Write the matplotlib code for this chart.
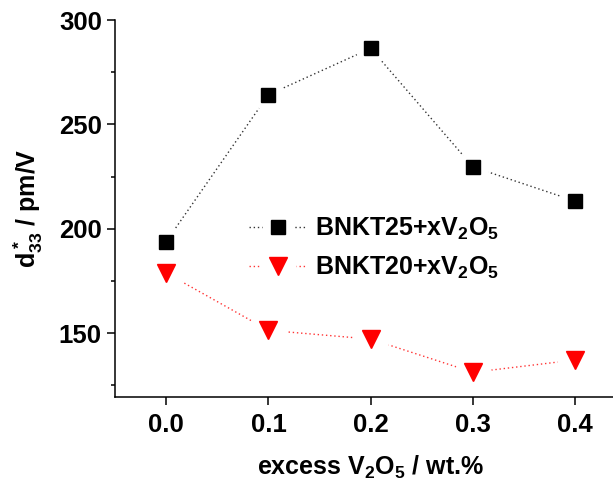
import numpy as np
import matplotlib.pyplot as plt
from matplotlib.ticker import MultipleLocator

plt.rcParams['font.family'] = ['Liberation Sans', 'DejaVu Sans']
plt.rcParams['font.weight'] = 'bold'
plt.rcParams['mathtext.default'] = 'regular'

# excess V2O5 content (wt.%) and d33* values (pm/V)
x_excess = [0.0, 0.1, 0.2, 0.3, 0.4]
d33_bnkt25 = [193.8, 264.2, 286.4, 229.6, 213.2]
d33_bnkt20 = [178.8, 151.3, 147.1, 131.2, 137.1]
labels = ['BNKT25+xV$_2$O$_5$', 'BNKT20+xV$_2$O$_5$']

fig = plt.figure(figsize=(6.13, 4.82), dpi=100)
ax = fig.add_axes([0.1876, 0.177, 0.8344, 0.7815])

def series(y, color, marker, ms):
    ln, = ax.plot(x_excess, y, ls=(0, (1, 2)), lw=1.0, color=color, alpha=0.8, zorder=1)
    # white halo so the dotted line stops short of each marker
    halo, = ax.plot(x_excess, y, ls='none', marker='o', ms=ms + 13,
                    mfc='white', mec='white', mew=0, zorder=2)
    mk, = ax.plot(x_excess, y, ls='none', marker=marker, ms=ms,
                  mfc=color, mec=color, zorder=3)
    return (ln, halo, mk)

h1 = series(d33_bnkt25, 'black', 's', 10)
h2 = series(d33_bnkt20, 'red', 'v', 13)

ax.set_xlim(-0.05, 0.45)
ax.set_ylim(119.5, 300)
ax.xaxis.set_major_locator(MultipleLocator(0.1))
ax.yaxis.set_major_locator(MultipleLocator(50))
ax.yaxis.set_minor_locator(MultipleLocator(25))
ax.xaxis.set_major_formatter(plt.FormatStrFormatter('%.1f'))

for s in ['top', 'right']:
    ax.spines[s].set_visible(False)
for s in ['left', 'bottom']:
    ax.spines[s].set_linewidth(1.1)
ax.tick_params(which='major', direction='out', length=5.5, width=1.1,
               labelsize=18.5, pad=4)
ax.tick_params(which='minor', direction='out', length=3, width=1.1)
ax.tick_params(axis='x', pad=6)

ax.set_xlabel('excess V$_2$O$_5$ / wt.%', fontsize=18, fontweight='bold', labelpad=12)
ax.set_ylabel('d$^*_{33}$ / pm/V', fontsize=18, fontweight='bold', labelpad=10)

ax.legend([h1, h2], labels, loc='upper left', bbox_to_anchor=(249 / 613, 1 - 216 / 482),
          bbox_transform=fig.transFigure, frameon=False,
          handlelength=2.3, handletextpad=0.35, labelspacing=0.5, borderpad=0,
          borderaxespad=0, prop={'weight': 'bold', 'size': 18})

fig.savefig('out.png', dpi=100)
